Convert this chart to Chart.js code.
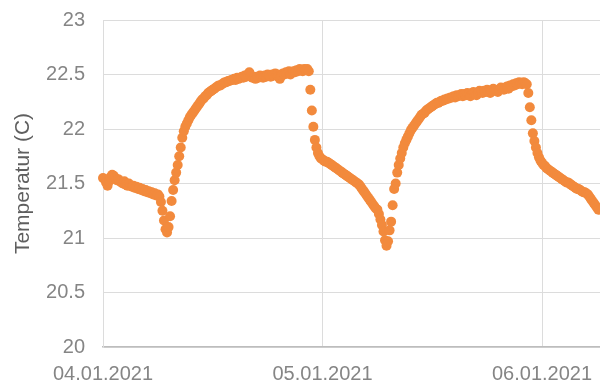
<!DOCTYPE html>
<html><head><meta charset="utf-8">
<script src="https://cdn.jsdelivr.net/npm/chart.js@4"></script>
<style>html,body{margin:0;padding:0;background:#fff;overflow:hidden}canvas{display:block}</style>
</head><body>
<canvas id="c" width="600" height="387"></canvas>
<script>
// Logger: start 04.01.2021 00:00, one reading every 10 minutes
const startHour = 0;
const sampleMinutes = 10;
const temperatures = [
  21.55, 21.54, 21.51, 21.48, 21.52, 21.56,
  21.58, 21.57, 21.55, 21.53, 21.54, 21.52,
  21.51, 21.50, 21.52, 21.49, 21.48, 21.50,
  21.48, 21.47, 21.48, 21.46, 21.47, 21.45,
  21.46, 21.44, 21.45, 21.43, 21.44, 21.42,
  21.43, 21.41, 21.42, 21.40, 21.41, 21.39,
  21.40, 21.38, 21.33, 21.25, 21.16, 21.08,
  21.05, 21.10, 21.20, 21.34, 21.44, 21.53,
  21.60, 21.67, 21.75, 21.83, 21.92, 21.98,
  22.02, 22.05, 22.08, 22.11, 22.13, 22.15,
  22.17, 22.19, 22.21, 22.23, 22.25, 22.27,
  22.28, 22.30, 22.31, 22.33, 22.34, 22.35,
  22.36, 22.37, 22.38, 22.39, 22.40, 22.40,
  22.41, 22.42, 22.43, 22.43, 22.44, 22.44,
  22.45, 22.45, 22.46, 22.45, 22.47, 22.46,
  22.47, 22.48, 22.47, 22.49, 22.48, 22.50,
  22.52, 22.49, 22.47, 22.48, 22.46, 22.48,
  22.47, 22.49, 22.48, 22.47, 22.49, 22.48,
  22.50, 22.49, 22.48, 22.50, 22.49, 22.51,
  22.50, 22.48, 22.46, 22.49, 22.51, 22.50,
  22.52, 22.51, 22.53, 22.50, 22.52, 22.53,
  22.52, 22.54, 22.53, 22.55, 22.54, 22.53,
  22.55, 22.54, 22.55, 22.53, 22.36, 22.17,
  22.02, 21.90, 21.83, 21.78, 21.75, 21.73,
  21.72, 21.71, 21.70, 21.70, 21.69, 21.68,
  21.67, 21.66, 21.65, 21.64, 21.63, 21.62,
  21.61, 21.60, 21.59, 21.58, 21.57, 21.56,
  21.55, 21.54, 21.53, 21.52, 21.51, 21.50,
  21.49, 21.47, 21.45, 21.43, 21.41, 21.39,
  21.37, 21.35, 21.33, 21.31, 21.29, 21.27,
  21.26, 21.22, 21.17, 21.12, 21.06, 20.98,
  20.93, 20.97, 21.07, 21.15, 21.30, 21.45,
  21.50, 21.60, 21.67, 21.73, 21.78, 21.83,
  21.87, 21.90, 21.93, 21.96, 21.99, 22.01,
  22.03, 22.05, 22.07, 22.09, 22.11, 22.13,
  22.14, 22.15, 22.17, 22.18, 22.19, 22.20,
  22.21, 22.22, 22.23, 22.24, 22.24, 22.25,
  22.26, 22.26, 22.27, 22.27, 22.28, 22.28,
  22.29, 22.29, 22.30, 22.29, 22.31, 22.30,
  22.31, 22.32, 22.30, 22.32, 22.31, 22.33,
  22.32, 22.30, 22.33, 22.34, 22.32, 22.31,
  22.33, 22.35, 22.34, 22.33, 22.35, 22.34,
  22.36, 22.34, 22.33, 22.35, 22.37, 22.36,
  22.35, 22.34, 22.36, 22.38, 22.37, 22.36,
  22.38, 22.39, 22.37, 22.40, 22.39, 22.41,
  22.40, 22.42, 22.41, 22.43, 22.42, 22.41,
  22.43, 22.42, 22.41, 22.33, 22.20, 22.08,
  21.96, 21.89, 21.83, 21.78, 21.74, 21.71,
  21.69, 21.67, 21.66, 21.64, 21.63, 21.62,
  21.61, 21.60, 21.59, 21.58, 21.57, 21.56,
  21.55, 21.54, 21.53, 21.52, 21.51, 21.51,
  21.50, 21.49, 21.48, 21.47, 21.46, 21.45,
  21.45, 21.44, 21.43, 21.42, 21.42, 21.41,
  21.40, 21.38, 21.36, 21.34, 21.32, 21.30,
  21.28, 21.26
];
const dayTickHours = [0, 24, 48];
const dayTickLabels = ['04.01.2021', '05.01.2021', '06.01.2021'];
const yTickValues = [20, 20.5, 21, 21.5, 22, 22.5, 23];
const yTickLabels = ['20', '20.5', '21', '21.5', '22', '22.5', '23'];
const yAxisTitle = 'Temperatur (C)';

const points = temperatures.map((t, i) => ({ x: startHour + i * sampleMinutes / 60, y: t }));

new Chart(document.getElementById('c'), {
  type: 'scatter',
  data: {
    datasets: [{
      data: points,
      backgroundColor: '#F28A3D',
      borderColor: '#F28A3D',
      borderWidth: 0,
      pointRadius: 5,
      clip: false
    }]
  },
  options: {
    responsive: false,
    animation: false,
    devicePixelRatio: 1,
    layout: { autoPadding: false, padding: { top: 20, right: 0, left: 0, bottom: 0 } },
    plugins: { legend: { display: false }, tooltip: { enabled: false } },
    scales: {
      x: {
        type: 'linear',
        min: 0,
        max: 54.34,
        afterFit: s => { s.height = 40; s.paddingLeft = 0; s.paddingRight = 0; },
        afterBuildTicks: s => { s.ticks = dayTickHours.map(v => ({ value: v })); },
        ticks: {
          includeBounds: false,
          maxRotation: 0,
          autoSkip: false,
          padding: 15,
          color: '#858585',
          font: { family: 'Liberation Sans', size: 20 },
          callback: v => dayTickLabels[dayTickHours.indexOf(v)]
        },
        grid: { color: '#dcdcdc', lineWidth: 1, drawTicks: false },
        border: { color: '#bdbdbd', width: 1.5 }
      },
      y: {
        min: 20,
        max: 23,
        afterFit: s => { s.width = 103; s.paddingTop = 0; s.paddingBottom = 0; },
        afterBuildTicks: s => { s.ticks = yTickValues.map(v => ({ value: v })); },
        ticks: {
          padding: 18,
          color: '#858585',
          font: { family: 'Liberation Sans', size: 20 },
          callback: v => yTickLabels[yTickValues.indexOf(v)]
        },
        grid: { color: '#dcdcdc', lineWidth: 1, drawTicks: false },
        border: { color: '#dcdcdc', width: 1 },
        title: {
          display: true,
          text: yAxisTitle,
          color: '#5f5f5f',
          font: { family: 'Liberation Sans', size: 21 },
          padding: { top: 11, bottom: 0 }
        }
      }
    }
  }
});
</script>
</body></html>
